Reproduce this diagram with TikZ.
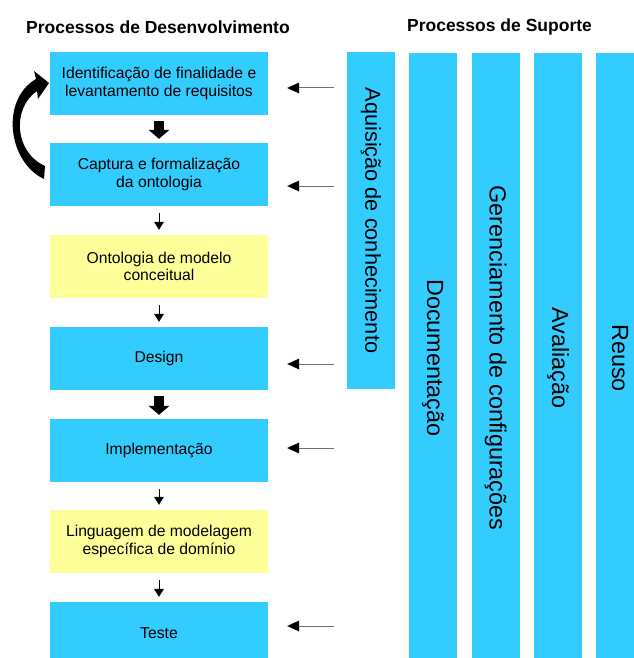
\documentclass[tikz,border=0pt]{standalone}
\usepackage{fontspec}
\setmainfont{Liberation Sans}
\usetikzlibrary{arrows.meta,calc}
\definecolor{cyanbox}{HTML}{33CCFF}
\definecolor{yellowbox}{HTML}{FFFF99}
\definecolor{arrowgray}{HTML}{707070}
\begin{document}
\begin{tikzpicture}[x=1pt,y=-1pt,
 devbox/.style={rectangle, minimum width=218pt, minimum height=63pt, inner sep=0pt, align=center, font=\fontsize{15.7}{17.5}\selectfont},
 cyanfill/.style={devbox, fill=cyanbox},
 yellowfill/.style={devbox, fill=yellowbox},
 bar/.style={rectangle, fill=cyanbox, rotate=-90, inner sep=0pt, minimum height=48pt, font=\fontsize{23.4}{26}\selectfont},
 sidearrow/.style={draw=arrowgray, line width=1pt, -{Triangle[length=12pt,width=11pt,line width=0pt,fill=black,color=black]}},
 thinarrow/.style={draw=black, line width=0.8pt, -{Triangle[length=8pt,width=10pt,line width=0pt]}},
 blockarrow/.style={draw=black, line width=10pt, -{Triangle[length=9pt,width=21pt,line width=0pt]}},
 titletext/.style={font=\bfseries\fontsize{17.5}{20}\selectfont, anchor=base}
]
\useasboundingbox (0,0) rectangle (633,658);

% titles
\node[titletext] (t1) at (158,33.3) {Processos de Desenvolvimento};
\node[titletext] (t2) at (499.5,31.7) {Processos de Suporte};

% development boxes
\node[cyanfill] (b1) at (159,83.5) {Identificação de finalidade e\\levantamento de requisitos};
\node[cyanfill] (b2) at (159,174.5) {Captura e formalização\\da ontologia};
\node[yellowfill] (b3) at (159,266.5) {Ontologia de modelo\\conceitual};
\node[cyanfill] (b4) at (159,358.5) {Design};
\node[cyanfill] (b5) at (159,450.5) {Implementação};
\node[yellowfill] (b6) at (159,541.5) {Linguagem de modelagem\\específica de domínio};
\node[cyanfill] (b7) at (159,633.5) {Teste};

% support bars
\node[bar, minimum width=337pt, font=\fontsize{21.7}{24}\selectfont] (aq) at (371,220.5) {Aquisição de conhecimento};
\node[bar, minimum width=610pt] (doc) at (433,358) {Documentação};
\node[bar, minimum width=610pt] (ger) at (495.5,358) {Gerenciamento de configurações};
\node[bar, minimum width=610pt] (ava) at (558,358) {Avaliação};
\node[bar, minimum width=610pt] (reu) at (620,358) {Reuso};

% down arrows
\draw[blockarrow] ($(b1.south)+(0,6)$) -- ($(b2.north)+(0,-4)$);
\draw[thinarrow] ($(b2.south)+(0,7)$) -- ($(b3.north)+(0,-5)$);
\draw[thinarrow] ($(b3.south)+(0,7)$) -- ($(b4.north)+(0,-5)$);
\draw[blockarrow] ($(b4.south)+(0,6)$) -- ($(b5.north)+(0,-4)$);
\draw[thinarrow] ($(b5.south)+(0,7)$) -- ($(b6.north)+(0,-5)$);
\draw[thinarrow] ($(b6.south)+(0,7)$) -- ($(b7.north)+(0,-5)$);

% side arrows from support processes
\draw[sidearrow] ($(b1.east)+(66,4.5)$) -- ($(b1.east)+(19,4.5)$);
\draw[sidearrow] ($(b2.east)+(66,11.5)$) -- ($(b2.east)+(19,11.5)$);
\draw[sidearrow] ($(b4.east)+(66,5.5)$) -- ($(b4.east)+(19,5.5)$);
\draw[sidearrow] ($(b5.east)+(66,-2.5)$) -- ($(b5.east)+(19,-2.5)$);
\draw[sidearrow] ($(b7.east)+(66,-7.5)$) -- ($(b7.east)+(19,-7.5)$);

% curved feedback arrow from b2 back to b1
\fill[black] (44,179) .. controls (8,162) and (0,100) .. (36,79) -- (34,71) -- (49,83) -- (38,99) -- (37,91) .. controls (12,108) and (14,152) .. (45,166) -- cycle;
\end{tikzpicture}
\end{document}
